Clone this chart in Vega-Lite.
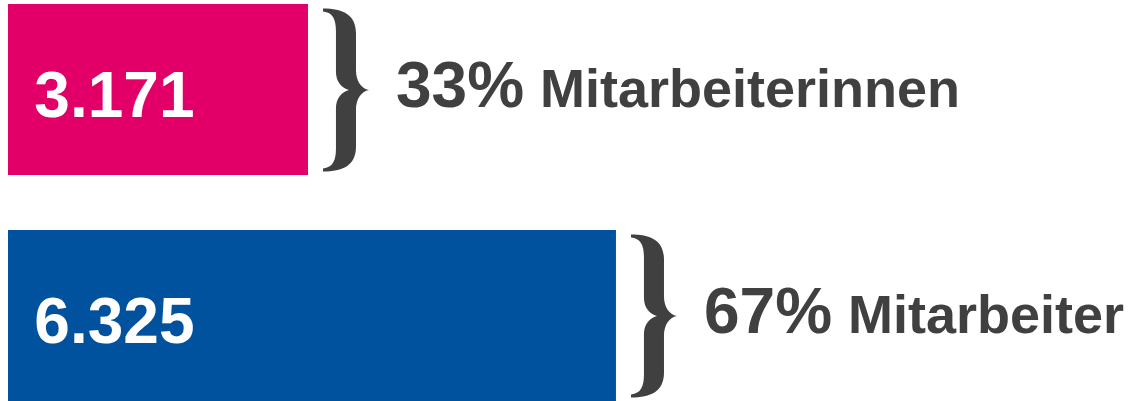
{
  "$schema": "https://vega.github.io/schema/vega-lite/v6.json",
  "autosize": {"type": "none"},
  "width": 1138,
  "height": 397,
  "padding": {"left": 8, "top": 4, "right": 0, "bottom": 0},
  "background": "white",
  "config": {"view": {"stroke": null}},
  "data": {
    "values": [
      {"gruppe": "Mitarbeiterinnen", "wert": 3171, "label": "3.171", "pct": "33%", "name": "Mitarbeiterinnen"},
      {"gruppe": "Mitarbeiter", "wert": 6325, "label": "6.325", "pct": "67%", "name": "Mitarbeiter"}
    ]
  },
  "encoding": {
    "y": {
      "field": "gruppe",
      "type": "nominal",
      "sort": null,
      "axis": null,
      "scale": {"paddingInner": 0.2434, "paddingOuter": 0}
    }
  },
  "layer": [
    {
      "mark": {"type": "bar", "cornerRadius": 0, "clip": true},
      "encoding": {
        "x": {"field": "wert", "type": "quantitative", "axis": null, "scale": {"domain": [99, 11753], "nice": false, "zero": false}},
        "color": {
          "field": "gruppe",
          "type": "nominal",
          "legend": null,
          "scale": {"domain": ["Mitarbeiterinnen", "Mitarbeiter"], "range": ["#E20068", "#00529E"]}
        }
      }
    },
    {
      "mark": {"type": "text", "align": "left", "baseline": "alphabetic", "dx": 36, "dy": 27.5, "font": "Liberation Sans", "fontWeight": "bold", "fontSize": 64, "color": "white"},
      "encoding": {
        "x": {"datum": 0, "type": "quantitative"},
        "text": {"field": "label"}
      }
    },
    {
      "mark": {
        "type": "point",
        "shape": "M -0.282 -1 C -0.037 -1 0.123 -0.926 0.123 -0.693 L 0.123 -0.239 C 0.123 -0.117 0.184 -0.018 0.282 0 C 0.184 0.018 0.123 0.117 0.123 0.239 L 0.123 0.693 C 0.123 0.926 -0.037 1 -0.282 1 L -0.282 0.963 C -0.160 0.951 -0.123 0.865 -0.123 0.718 L -0.123 0.227 C -0.123 0.104 -0.061 0.031 0.037 0 C -0.061 -0.031 -0.123 -0.104 -0.123 -0.227 L -0.123 -0.718 C -0.123 -0.865 -0.160 -0.951 -0.282 -0.963 Z",
        "filled": true,
        "opacity": 1,
        "strokeWidth": 0,
        "size": 26569,
        "color": "#404040",
        "xOffset": 38,
        "yOffset": 0.5
      },
      "encoding": {
        "x": {"field": "wert", "type": "quantitative"}
      }
    },
    {
      "mark": {"type": "text", "align": "left", "baseline": "alphabetic", "dx": 88, "dy": 17.5, "font": "Liberation Sans", "fontWeight": "bold", "fontSize": 64, "color": "#404040"},
      "encoding": {
        "x": {"field": "wert", "type": "quantitative"},
        "text": {"field": "pct"}
      }
    },
    {
      "mark": {"type": "text", "align": "left", "baseline": "alphabetic", "dx": 232, "dy": 17.5, "font": "Liberation Sans", "fontWeight": "bold", "fontSize": 54, "color": "#404040"},
      "encoding": {
        "x": {"field": "wert", "type": "quantitative"},
        "text": {"field": "name"}
      }
    }
  ]
}
